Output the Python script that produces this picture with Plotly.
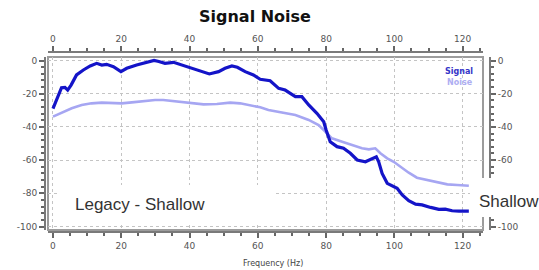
import plotly.graph_objects as go

# ---- data ----
signal_x = [0, 0.6, 1.8, 2.5, 3.5, 4.3, 5.3, 6.9, 8.9, 10.9, 12.8, 14.3, 15.7, 17.7, 19.9,
            21.6, 24.5, 27.9, 29.6, 31, 32.8, 35.3, 37.7, 40.2, 43.1, 45.8, 48.5, 50.4, 52.4,
            54, 56.3, 58.7, 60.7, 62.2, 63.6, 66.1, 68, 69.5, 71, 72.9, 74.9, 77.3, 79.3, 80,
            81.2, 83.2, 85.1, 87.1, 89.1, 91.5, 93.5, 94.7, 95.4, 96.4, 97.9, 99.3, 100.8,
            102.3, 104.2, 106.2, 108.1, 110.6, 113, 114.9, 116.9, 118.9, 121.8]
signal_y = [-29, -25.8, -18.8, -16.4, -16.2, -17.8, -14.8, -8.7, -5.7, -3.3, -1.7, -2.7, -2.3,
            -3.7, -6.7, -4.7, -2.7, -0.7, 0, -0.6, -1.7, -1.1, -2.7, -4.7, -6.7, -8.1, -6.7,
            -4.7, -3.3, -4.1, -6.7, -8.7, -11.3, -11.7, -12.2, -16.8, -17.8, -19.8, -21.8,
            -21.8, -26.8, -31.8, -36.9, -41.9, -48.9, -51.9, -52.9, -55.9, -59.9, -61, -59,
            -58, -61, -68, -74, -75.6, -77, -81, -84.5, -86.5, -87, -88.5, -89.7, -89.5,
            -90.5, -90.7, -90.7]

noise_x = [0, 2.5, 5.5, 8.4, 11.3, 14.3, 17.2, 20.1, 23.1, 27, 29.9, 32.3, 36.3, 40.2, 44.1,
           48, 51.9, 54.8, 57.8, 60.7, 63.1, 67.1, 71, 74.9, 77.8, 79.8, 81.7, 84.7, 87.6,
           90.5, 92.5, 94.4, 95.9, 97.9, 99.8, 101.8, 104.2, 106.6, 109.6, 112.5, 115.5,
           118.4, 121.8]
noise_y = [-33.8, -31.4, -28.8, -26.8, -25.8, -25.4, -25.8, -25.8, -25.2, -24.4, -23.8, -23.8,
           -24.8, -25.8, -26.4, -26.2, -25.4, -25.8, -26.8, -28.2, -29.8, -31.4, -32.8, -35.8,
           -38.9, -42.9, -46.9, -48.9, -50.9, -52.9, -53.5, -52.9, -55.9, -58.9, -61, -64,
           -67.6, -70.6, -72, -73.4, -74.6, -75, -75.4]

x_ticks = [0, 20, 40, 60, 80, 100, 120]
x_tick_labels = ["0", "20", "40", "60", "80", "100", "120"]
y_ticks = [0, -20, -40, -60, -80, -100]
y_tick_labels = ["0", "-20", "-40", "-60", "-80", "-100"]
# right axis: the -80 label is hidden behind the "Shallow" label in the reference
y2_ticks = [0, -20, -40, -60, -100]
y2_tick_labels = ["0", "-20", "-40", "-60", "-100"]

title_text = "Signal Noise"
x_title = "Frequency (Hz)"

# ---- figure ----
W, H = 539, 270
ML, MR, MT, MB = 45, 49, 52, 38

fig = go.Figure()
fig.add_trace(go.Scatter(x=noise_x, y=noise_y, mode="lines", name="Noise",
                         line=dict(color="#a6a6f2", width=2.6)))
fig.add_trace(go.Scatter(x=signal_x, y=signal_y, mode="lines", name="Signal",
                         line=dict(color="#1414c8", width=3.2)))
# anchor trace for the mirrored axes
fig.add_trace(go.Scatter(x=[None], y=[None], xaxis="x2", yaxis="y2",
                         showlegend=False, hoverinfo="skip"))

tickfont = dict(family="DejaVu Sans", size=9, color="#555555")
common = dict(showline=True, linecolor="#7a7a7a", linewidth=2, ticks="outside",
              ticklen=5, tickwidth=1.5, tickcolor="#666666", tickfont=tickfont,
              zeroline=False)
xr = [-1.46, 125.95]
yr = [-102.1, 2.11]
xdom = [3 / 445, 438 / 445]
ydom = [2 / 180, 175 / 180]

fig.update_layout(
    width=W, height=H,
    margin=dict(l=ML, r=MR, t=MT, b=MB, pad=0, autoexpand=False),
    paper_bgcolor="white", plot_bgcolor="white",
    showlegend=False,
    title=dict(text="<b>" + title_text + "</b>", x=255 / W, xref="container",
               xanchor="center", y=1 - 16 / H, yref="container", yanchor="middle",
               font=dict(family="DejaVu Sans", size=16, color="#111111")),
    xaxis=dict(domain=xdom, range=xr, anchor="free", position=0, side="bottom",
               tickvals=x_ticks, ticktext=x_tick_labels,
               showgrid=True, gridcolor="#c4c4c4", griddash="dot", gridwidth=1,
               minor=dict(dtick=5, tick0=0, ticks="outside", ticklen=3, tickcolor="#666666",
                          showgrid=False),
               **common),
    xaxis2=dict(overlaying="x", range=xr, anchor="free", position=1, side="top",
                tickvals=x_ticks, ticktext=x_tick_labels, showgrid=False,
                minor=dict(dtick=5, tick0=0, ticks="outside", ticklen=3, tickcolor="#666666",
                           showgrid=False),
                **common),
    yaxis=dict(domain=ydom, range=yr, anchor="free", position=0, side="left",
               tickvals=y_ticks, ticktext=y_tick_labels,
               showgrid=True, gridcolor="#c4c4c4", griddash="dot", gridwidth=1,
               minor=dict(dtick=4, tick0=0, ticks="outside", ticklen=3, tickcolor="#666666",
                          showgrid=False),
               **common),
    yaxis2=dict(overlaying="y", range=yr, anchor="free", position=1, side="right",
                tickvals=y2_ticks, ticktext=y2_tick_labels, showgrid=False,
                minor=dict(dtick=4, tick0=0, ticks="outside", ticklen=3, tickcolor="#666666",
                           showgrid=False),
                **common),
)

# plot frame
fig.add_shape(type="rect", xref="x domain", yref="y domain", x0=0, x1=1, y0=0, y1=1,
              line=dict(color="#9c9c9c", width=2), layer="below")
# white label boxes
fig.add_shape(type="rect", xref="x", yref="y", x0=2.05, x1=65, y0=-97.3, y1=-75,
              fillcolor="white", line=dict(width=0), layer="above")
fig.add_shape(type="rect", xref="paper", yref="paper", x0=0.955, x1=1.12, y0=0.083, y1=0.30,
              fillcolor="white", line=dict(width=0), layer="above")

def px2x(px):
    # screen px -> paper fraction
    return (px - ML) / (W - ML - MR)

def py2y(py):
    return (H - MB - py) / (H - MT - MB)

fig.add_annotation(text="Legacy - Shallow", xref="paper", yref="paper",
                   x=px2x(140), y=py2y(204), xanchor="center", yanchor="middle",
                   showarrow=False,
                   font=dict(family="Liberation Sans, Arial", size=17, color="#333333"))
fig.add_annotation(text="Shallow", xref="paper", yref="paper",
                   x=px2x(509), y=py2y(201), xanchor="center", yanchor="middle",
                   showarrow=False,
                   font=dict(family="Liberation Sans, Arial", size=17, color="#333333"))
fig.add_annotation(text="<b>Signal</b>", xref="paper", yref="paper",
                   x=px2x(475), y=py2y(71), xanchor="right", yanchor="middle",
                   showarrow=False,
                   font=dict(family="DejaVu Sans", size=8, color="#3434c8"))
fig.add_annotation(text="<b>Noise</b>", xref="paper", yref="paper",
                   x=px2x(475), y=py2y(82), xanchor="right", yanchor="middle",
                   showarrow=False,
                   font=dict(family="DejaVu Sans", size=8, color="#aeaef2"))
fig.add_annotation(text=x_title, xref="paper", yref="paper",
                   x=px2x(273), y=py2y(263), xanchor="center", yanchor="middle",
                   showarrow=False,
                   font=dict(family="DejaVu Sans", size=8, color="#444444"))

# remove the default 8px page margin so the 539x270 figure fills the window exactly
fig.write_html("out.html", config={"displayModeBar": False},
               post_script="document.body.style.margin='0px';")
